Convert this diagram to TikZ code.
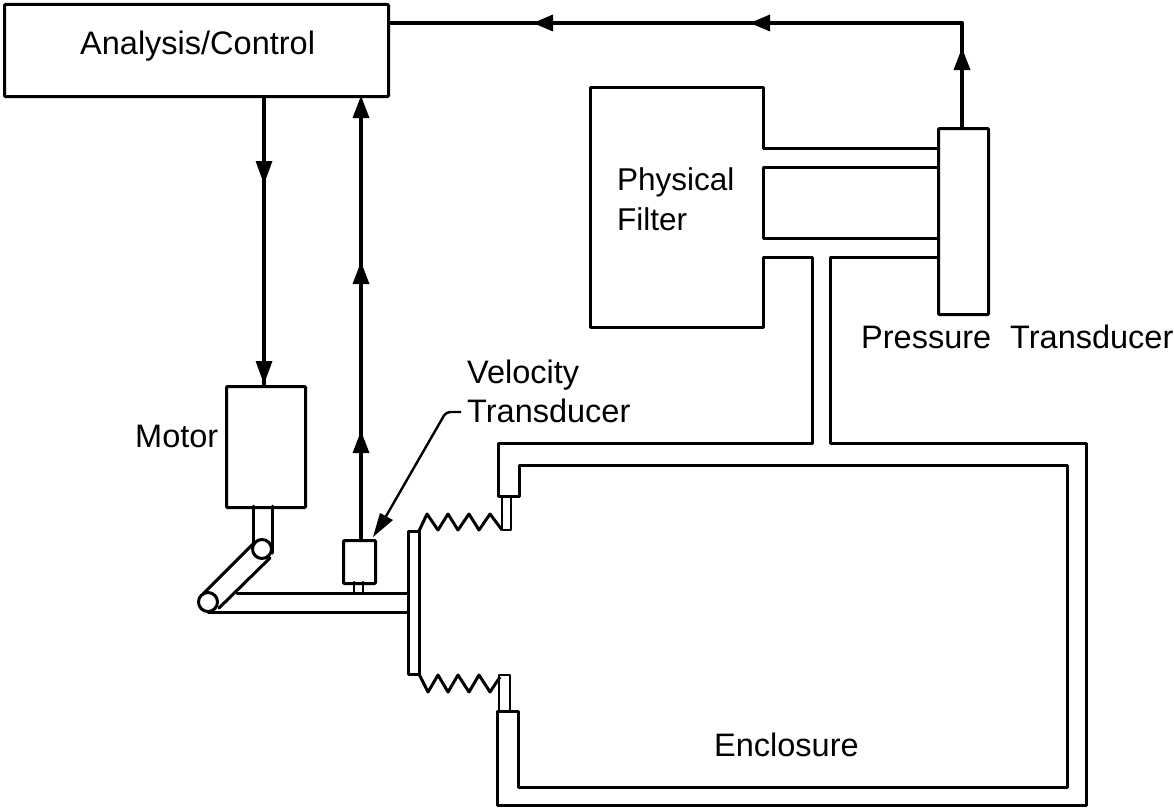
\documentclass[tikz,border=0pt]{standalone}
\usepackage{fontspec}
\setmainfont{Liberation Sans}
\tikzset{
 pipe/.style={line width=3pt,line join=round,line cap=round},
 thin pipe/.style={line width=2.6pt,line join=round,line cap=round},
 signal/.style={line width=4.5pt},
 lbl/.style={font=\fontsize{32.5}{39}\selectfont,inner sep=0pt,anchor=base west},
 lblsmall/.style={font=\fontsize{31.5}{39}\selectfont,inner sep=0pt,anchor=base west},
 box/.style={draw,line width=3pt,rounded corners=1pt,inner sep=0pt,anchor=north west},
}
% arrowheads: tip at (x,y)
\newcommand{\hup}[2]{\fill (#1,#2) -- (#1-8.5,#2+22) -- (#1+8.5,#2+22) -- cycle;}
\newcommand{\hdn}[2]{\fill (#1,#2) -- (#1-8.5,#2-23) -- (#1+8.5,#2-23) -- cycle;}
\newcommand{\hlf}[2]{\fill (#1,#2) -- (#1+20,#2-8.5) -- (#1+20,#2+8.5) -- cycle;}
\begin{document}
\begin{tikzpicture}[x=1pt,y=-1pt]
\useasboundingbox (0,0) rectangle (1174,808);
% boxes
\node[box,minimum width=384pt,minimum height=92pt] (ac) at (3,3) {};
\node[lbl] (acl) at (80,55) {Analysis/Control};
\node[box,minimum width=79pt,minimum height=121pt] (motor) at (225,385) {};
\node[lbl] (ml) at (135,447) {Motor};
\node[box,minimum width=50pt,minimum height=186pt] (pt) at (937,127) {};
\node[lbl] (pl1) at (861,348) {Pressure};
\node[lbl] (pl2) at (1010,348) {Transducer};
\node[lblsmall] (fl1) at (617,190) {Physical};
\node[lblsmall] (fl2) at (617,230) {Filter};
\node[lbl] (vl1) at (467,383) {Velocity};
\node[lbl] (vl2) at (467,422) {Transducer};
\node[lbl] (el) at (714,756) {Enclosure};
\node[box,minimum width=32pt,minimum height=43pt] (vt) at (342,539) {};
% filter
\draw[pipe] (937,148) -- (763,148) -- (763,87) -- (590,87) -- (590,327) -- (763,327) -- (763,257) -- (812,257) -- (812,443) -- (498,443) -- (498,496) -- (519,496) -- (519,465) -- (1067,465) -- (1067,787) -- (518,787) -- (518,711) -- (497,711) -- (497,805) -- (1086,805) -- (1086,443) -- (830,443) -- (830,257) -- (937,257);
\draw[pipe] (937,167) -- (763,167) -- (763,238) -- (937,238);
% small tubes
\draw[thin pipe] (502,497) -- (502,530) -- (511,530) -- (511,497);
\draw[thin pipe] (499,711) -- (499,675) -- (510,675) -- (510,711);
% plate, rod
\draw[pipe] (408,531) rectangle (419,674);
\draw[pipe] (237,593) -- (408,593);
\draw[pipe] (208,612) -- (408,612);
\draw[thin pipe] (354,582) -- (354,593);
\draw[thin pipe] (363,582) -- (363,593);
% bellows
\draw[pipe,line cap=butt,miter limit=10] (419,531) -- (427,514) -- (438,530) -- (448,514) -- (458,530) -- (469,514) -- (479,530) -- (490,514) -- (502,530);
\draw[pipe,line cap=butt] (419,674) -- (428,692) -- (438,675) -- (448,692) -- (458,675) -- (469,692) -- (479,675) -- (490,692) -- (500,677);
% linkage
\draw[pipe] (253,506) -- (253,543);
\draw[pipe] (272,506) -- (272,553);
\draw[pipe] (254,543) -- (203,594);
\draw[pipe] (270,558) -- (219,608);
\draw[pipe] (262,549) circle (9.5);
\draw[pipe] (208,602) circle (9.5);
% signal lines
\coordinate (acd) at (264,95);
\coordinate (mt) at (264,385);
\draw[signal] (acd) -- (mt);
\hdn{264}{184}
\hdn{264}{384}
\coordinate (acu) at (361,100);
\coordinate (vtt) at (361,539);
\draw[signal] (vtt) -- (acu);
\hup{361}{96}
\hup{361}{262}
\hup{361}{431}
\coordinate (r1) at (387,23);
\coordinate (r2) at (962,23);
\coordinate (r3) at (962,127);
\draw[signal,line join=round] (r3) -- (r2) -- (r1);
\hup{962}{48}
\hlf{533}{23}
\hlf{750}{23}
% leader
\coordinate (lead) at (461,412);
\coordinate (tip) at (373,537);
\draw[line width=2.4pt,rounded corners=4pt] (lead) -- (446,412) -- (385,518);
\fill (tip) -- (380,513) -- (393,520) -- cycle;
\end{tikzpicture}
\end{document}
